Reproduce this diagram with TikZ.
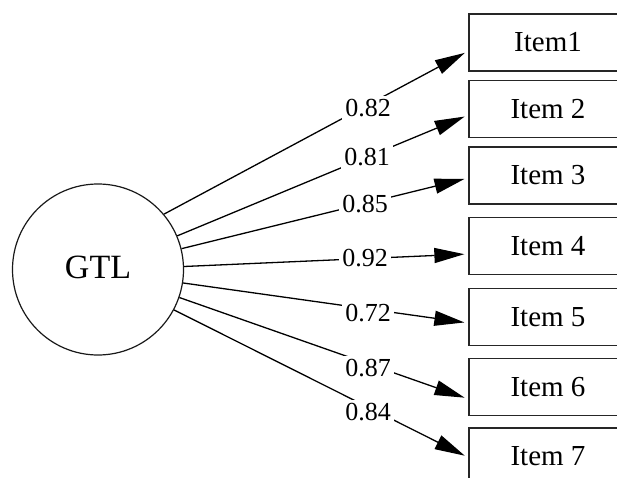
\documentclass[tikz,border=0pt]{standalone}
\usepackage{fontspec}
\setmainfont{Liberation Serif}
\usetikzlibrary{arrows.meta}
\begin{document}
\begin{tikzpicture}[x=1pt,y=-1pt,
  itembox/.style={draw=black!85,line width=1.3pt,rectangle,minimum width=158pt,minimum height=57pt,inner sep=0pt,font=\fontsize{29}{30}\selectfont},
  latent/.style={draw=black!90,line width=1.2pt,circle,minimum size=171pt,inner sep=0pt,font=\fontsize{34}{36}\selectfont},
  loading/.style={fill=white,inner sep=3pt,font=\fontsize{26}{28}\selectfont},
  path/.style={draw=black,line width=1.3pt,-{Triangle[length=30pt,width=15pt]},shorten >=4pt}
]
\useasboundingbox (0,0) rectangle (617,478);
\clip (0,0) rectangle (617,478);
\node[latent] (g) at (98,269.5) {\raisebox{4pt}{GTL}};
\node[itembox] (i1) at (548,42.5) {Item1};
\node[itembox] (i2) at (548,109) {Item 2};
\node[itembox] (i3) at (548,175.5) {Item 3};
\node[itembox] (i4) at (548,246) {Item 4};
\node[itembox] (i5) at (548,317) {Item 5};
\node[itembox] (i6) at (548,387) {Item 6};
\node[itembox] (i7) at (548,456.5) {Item 7};
\draw[path] (g.40) -- ([yshift=-8.5pt]i1.west);
\draw[path] (g.23) -- ([yshift=-6pt]i2.west);
\draw[path] (g.14) -- ([yshift=-2.5pt]i3.west);
\draw[path] (g.2.4) -- ([yshift=-8pt]i4.west);
\draw[path] (g.-9) -- ([yshift=-6pt]i5.west);
\draw[path] (g.-19.6) -- ([yshift=-12pt]i6.west);
\draw[path] (g.-28.4) -- ([yshift=-1pt]i7.west);
\node[loading] (l1) at (368,108) {0.82};
\node[loading] (l2) at (367,157) {0.81};
\node[loading] (l3) at (365,204) {0.85};
\node[loading] (l4) at (365,258) {0.92};
\node[loading] (l5) at (368,313) {0.72};
\node[loading] (l6) at (368,368) {0.87};
\node[loading] (l7) at (368,412) {0.84};
\end{tikzpicture}
\end{document}
